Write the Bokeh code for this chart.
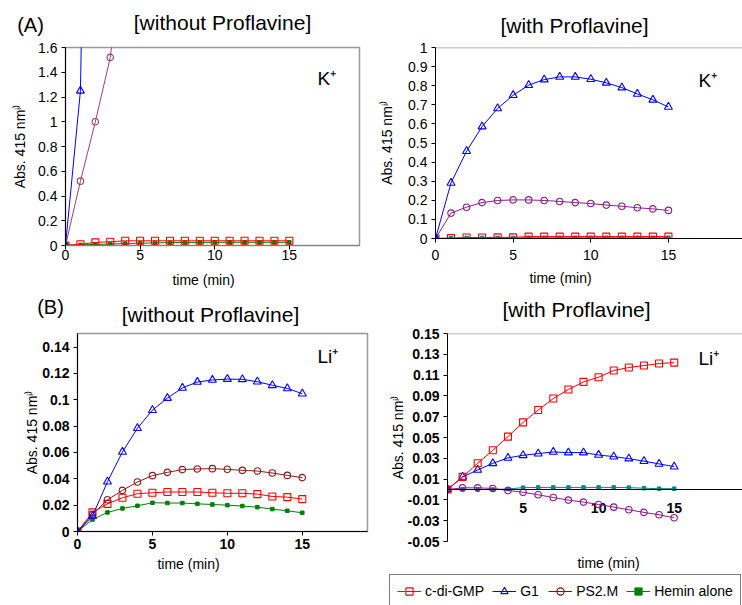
from bokeh.plotting import figure
from bokeh.layouts import column, row
from bokeh.models import (Range1d, FixedTicker, Label, Span, Legend, LegendItem,
                          CustomJSTickFormatter)
from bokeh.core.properties import value
from bokeh.embed import file_html
from bokeh.resources import INLINE

FONT = "Liberation Sans"

# ---------------- data ----------------
time_min = list(range(16))

# (A) K+, without proflavine
a1_cdigmp = [0.0, 0.01, 0.025, 0.03, 0.038, 0.038, 0.038, 0.038, 0.038, 0.038,
             0.038, 0.038, 0.038, 0.038, 0.038, 0.038]
a1_g1_time = [0, 1, 2]
a1_g1 = [0.0, 1.25, 8.0]
a1_ps2m_time = [0, 1, 2, 3, 4]
a1_ps2m = [0.0, 0.52, 1.0, 1.52, 2.5]
a1_hemin = [0.003, 0.005, 0.008, 0.012, 0.016, 0.019, 0.021, 0.023, 0.024, 0.025,
            0.026, 0.026, 0.026, 0.026, 0.026, 0.026]

# (A) K+, with proflavine
a2_cdigmp = [0.0, 0.002, 0.005, 0.005, 0.006, 0.006, 0.01, 0.01, 0.01, 0.01,
             0.01, 0.01, 0.01, 0.01, 0.01, 0.01]
a2_g1 = [0.0, 0.291, 0.457, 0.586, 0.681, 0.750, 0.803, 0.832, 0.846, 0.846,
         0.834, 0.815, 0.790, 0.757, 0.726, 0.689]
a2_ps2m = [0.0, 0.133, 0.164, 0.188, 0.199, 0.202, 0.202, 0.199, 0.194, 0.188,
           0.183, 0.175, 0.169, 0.161, 0.155, 0.147]
a2_hemin = [0.0, 0.002, 0.003, 0.003, 0.003, 0.003, 0.004, 0.004, 0.004, 0.004,
            0.004, 0.004, 0.004, 0.004, 0.004, 0.004]

# (B) Li+, without proflavine
b1_cdigmp = [0.0, 0.0145, 0.021, 0.0256, 0.0287, 0.0294, 0.030, 0.030, 0.030, 0.0294,
             0.029, 0.029, 0.0284, 0.0266, 0.0261, 0.0246]
b1_g1 = [0.0, 0.0117, 0.0378, 0.0604, 0.0784, 0.0921, 0.1013, 0.109, 0.1135, 0.115,
         0.1157, 0.1155, 0.1137, 0.111, 0.1086, 0.1046]
b1_ps2m = [0.0, 0.013, 0.0241, 0.0312, 0.0376, 0.0424, 0.0449, 0.047, 0.0475, 0.0477,
           0.0472, 0.0464, 0.0459, 0.0444, 0.0426, 0.0409]
b1_hemin = [0.0, 0.0091, 0.0145, 0.0175, 0.0195, 0.0218, 0.0216, 0.0216, 0.021, 0.0205,
            0.020, 0.0193, 0.0185, 0.017, 0.0157, 0.0142]

# (B) Li+, with proflavine
b2_cdigmp = [0.0, 0.0121, 0.0252, 0.0377, 0.0508, 0.0645, 0.0764, 0.0875, 0.0962, 0.1035,
             0.108, 0.1144, 0.1173, 0.1192, 0.1211, 0.122]
b2_g1 = [0.0, 0.0121, 0.0188, 0.0252, 0.0304, 0.0329, 0.0345, 0.0361, 0.0355, 0.0355,
         0.0332, 0.0316, 0.0297, 0.0272, 0.0246, 0.022]
b2_ps2m = [0.0, 0.0016, 0.0016, 0.001, -0.001, -0.0026, -0.0051, -0.0077, -0.0102, -0.0121,
           -0.0144, -0.0169, -0.0195, -0.022, -0.0243, -0.0272]
b2_hemin = [0.0, 0.0, 0.0, 0.0, 0.0005, 0.0018, 0.002, 0.002, 0.002, 0.002,
            0.002, 0.002, 0.0018, 0.0012, 0.0008, 0.0008]

# ticks
x_ticks = [0, 5, 10, 15]
b2_x_ticks = [5, 10, 15]
b2_x_tick_labels = ["5", "10", "15"]
a1_y_ticks = [0, 0.2, 0.4, 0.6, 0.8, 1.0, 1.2, 1.4, 1.6]
a1_y_labels = ["0", "0.2", "0.4", "0.6", "0.8", "1", "1.2", "1.4", "1.6"]
a2_y_ticks = [0, 0.1, 0.2, 0.3, 0.4, 0.5, 0.6, 0.7, 0.8, 0.9, 1.0]
a2_y_labels = ["0", "0.1", "0.2", "0.3", "0.4", "0.5", "0.6", "0.7", "0.8", "0.9", "1"]
b1_y_ticks = [0, 0.02, 0.04, 0.06, 0.08, 0.1, 0.12, 0.14]
b1_y_labels = ["0", "0.02", "0.04", "0.06", "0.08", "0.1", "0.12", "0.14"]
b2_y_ticks = [-0.05, -0.03, -0.01, 0.01, 0.03, 0.05, 0.07, 0.09, 0.11, 0.13, 0.15]
b2_y_labels = ["-0.05", "-0.03", "-0.01", "0.01", "0.03", "0.05", "0.07", "0.09",
               "0.11", "0.13", "0.15"]

series_names = ["c-di-GMP", "G1", "PS2.M", "Hemin alone"]

RED = "#FF0000"
BLUE = "#0000FF"
MAROON = "#8B1A1A"
PLUM = "#A0406A"
PURPLE = "#8B1C8B"
GREEN = "#008000"
TEAL = "#008B8B"
YLABEL = "Abs. 415 nm\u2071\u207e"


def lookup_formatter(vals, labels):
    return CustomJSTickFormatter(args=dict(tv=vals, tl=labels), code="""
        for (let i = 0; i < tv.length; i++) {
            if (Math.abs(tv[i] - tick) < 1e-9) { return tl[i]; }
        }
        return "";
    """)


def make_panel(width, height, bl, br, bt, bb, xmax, yrange, yticks, ylabels,
               bold, ylab_standoff, xlab_standoff, outline=True):
    p = figure(width=width, height=height, x_range=Range1d(0, xmax),
               y_range=Range1d(*yrange), output_backend="svg", toolbar_location=None,
               min_border_left=bl, min_border_right=br, min_border_top=bt,
               min_border_bottom=bb, background_fill_color="white",
               border_fill_color="white")
    p.xgrid.visible = False
    p.ygrid.visible = False
    if outline:
        p.outline_line_color = "#999999"
        p.outline_line_width = 1.5
    else:
        p.outline_line_color = None
        p.add_layout(Span(location=yrange[1], dimension="width",
                          line_color="#999999", line_width=1.5))
    weight = "bold" if bold else "normal"
    for ax in (p.xaxis[0], p.yaxis[0]):
        ax.axis_line_color = "black"
        ax.major_tick_line_color = "black"
        ax.major_tick_in = 0
        ax.major_tick_out = 4
        ax.minor_tick_line_color = None
        ax.major_label_text_font = FONT
        ax.major_label_text_font_size = "14px"
        ax.major_label_text_font_style = weight
        ax.major_label_text_color = "black"
    p.yaxis.ticker = FixedTicker(ticks=yticks)
    p.yaxis.formatter = lookup_formatter(yticks, ylabels)
    p.yaxis.major_label_standoff = 4
    p.yaxis.axis_label = YLABEL
    p.yaxis.axis_label_text_font = FONT
    p.yaxis.axis_label_text_font_size = "14px"
    p.yaxis.axis_label_text_font_style = "normal"
    p.yaxis.axis_label_standoff = ylab_standoff
    p.yaxis.axis_label_text_color = "black"
    p.xaxis.ticker = FixedTicker(ticks=x_ticks)
    p.xaxis.major_label_standoff = xlab_standoff
    return p


def strip(width, height, x_range=(0, 1), y_range=(0, 1)):
    s = figure(width=width, height=height, x_range=Range1d(*x_range),
               y_range=Range1d(*y_range),
               output_backend="svg", toolbar_location=None, x_axis_location=None,
               y_axis_location=None, min_border=0, min_border_left=0,
               min_border_right=0, min_border_top=0, min_border_bottom=0,
               background_fill_color="white", border_fill_color="white")
    s.xgrid.visible = False
    s.ygrid.visible = False
    s.outline_line_color = None
    return s


def add_series(p, x, y, color, kind):
    rl = p.line(x, y, line_color=color, line_width=1)
    if kind == "square":
        rs = p.scatter(x, y, marker="square", size=7, line_color=color, fill_color=None,
                       line_width=1.1)
    elif kind == "triangle":
        rs = p.scatter(x, y, marker="triangle", size=8, line_color=color,
                       fill_color=None, line_width=1.1)
    elif kind == "circle":
        rs = p.scatter(x, y, marker="circle", size=6.5, line_color=color,
                       fill_color=None, line_width=1.1)
    else:
        rs = p.scatter(x, y, marker="square", size=3.5, line_color=color,
                       fill_color=color, line_width=1)
    return rl, rs


def text_label(p, x, y, text, size, align="center", style="normal"):
    # x: px from frame left, y: px from frame bottom
    p.add_layout(Label(x=x, y=y, x_units="screen", y_units="screen", text=text,
                       text_font=FONT, text_font_size=size, text_align=align,
                       text_baseline="middle", text_color="black",
                       text_font_style=style))


# ---------------- header strip (A) ----------------
H_A = 40
hA = strip(742, H_A)
text_label(hA, 30, H_A - 24, "(A)", "20px")
text_label(hA, 222, H_A - 22, "[without Proflavine]", "21px")
text_label(hA, 574, H_A - 25, "[with Proflavine]", "21px")

# ---------------- panel A1 ----------------
pA1 = make_panel(370, 226, 65, 11, 7, 21, 19.7, (0, 1.6), a1_y_ticks, a1_y_labels,
                 False, 7, 0)
pA1.xaxis.axis_line_color = "#808080"
add_series(pA1, time_min, a1_hemin, GREEN, "dot")
add_series(pA1, time_min, a1_cdigmp, RED, "square")
add_series(pA1, a1_ps2m_time, a1_ps2m, PLUM, "circle")
add_series(pA1, a1_g1_time, a1_g1, BLUE, "triangle")
text_label(pA1, 252, 167, "K\u207a", "19px", align="left")

# ---------------- panel A2 ----------------
pA2 = make_panel(372, 226, 65, 0, 7, 28, 19.77, (0, 1.0), a2_y_ticks, a2_y_labels,
                 False, 10, 7, outline=False)
add_series(pA2, time_min, a2_hemin, TEAL, "dot")
add_series(pA2, time_min, a2_cdigmp, RED, "square")
add_series(pA2, time_min, a2_ps2m, PURPLE, "circle")
add_series(pA2, time_min, a2_g1, BLUE, "triangle")
text_label(pA2, 263, 158, "K\u207a", "19px", align="left")

# ---------------- middle strips ----------------
H_ML = 64
mL = strip(370, H_ML)
text_label(mL, 203, H_ML - 13, "time (min)", "14px")
text_label(mL, 50, H_ML - 40, "(B)", "20px")
text_label(mL, 210, H_ML - 48, "[without Proflavine]", "21px")

H_MR = 58
mR = strip(372, H_MR)
text_label(mR, 190, H_MR - 11, "time (min)", "14px")
text_label(mR, 206, H_MR - 43, "[with Proflavine]", "21px")

# ---------------- panel B1 ----------------
pB1 = make_panel(370, 225, 77, 3, 3, 24, 19.35, (0, 0.1503), b1_y_ticks, b1_y_labels,
                 True, -1, 3)
add_series(pB1, time_min, b1_hemin, GREEN, "dot")
add_series(pB1, time_min, b1_cdigmp, RED, "square")
add_series(pB1, time_min, b1_ps2m, MAROON, "circle")
add_series(pB1, time_min, b1_g1, BLUE, "triangle")
text_label(pB1, 240, 175, "Li\u207a", "19px", align="left")

# ---------------- panel B2 ----------------
pB2 = make_panel(372, 231, 77, 0, 9, 14, 19.52, (-0.05, 0.15), b2_y_ticks, b2_y_labels,
                 True, -1, 6, outline=False)
pB2.xaxis.visible = False
pB2.add_layout(Span(location=0, dimension="width", line_color="black", line_width=1))
pB2.text(x=b2_x_ticks, y=[0] * len(b2_x_ticks), text=b2_x_tick_labels,
         text_font=value(FONT), text_font_size="14px", text_font_style="bold",
         text_align="center", text_baseline="middle", y_offset=18, text_color="black")
add_series(pB2, time_min, b2_hemin, TEAL, "dot")
add_series(pB2, time_min, b2_ps2m, PURPLE, "circle")
add_series(pB2, time_min, b2_g1, BLUE, "triangle")
add_series(pB2, time_min, b2_cdigmp, RED, "square")
text_label(pB2, 251, 183, "Li\u207a", "19px", align="left")

# ---------------- footer strip with legend ----------------
# The footer's ranges lie far away from the data, so its legend renderers stay off-screen.
H_F = 50
hF = strip(742, H_F, x_range=(1000, 1001), y_range=(1000, 1001))
text_label(hF, 188, H_F - 8, "time (min)", "14px")
text_label(hF, 608, H_F - 7, "time (min)", "14px")
legend_series = [b1_cdigmp, b1_g1, b1_ps2m, b1_hemin]
legend_colors = [RED, BLUE, "#990000", GREEN]
legend_kinds = ["square", "triangle", "circle", "dot"]
items = []
for name, ys, col, kind in zip(series_names, legend_series, legend_colors, legend_kinds):
    rl, rs = add_series(hF, time_min, ys, col, kind)
    items.append(LegendItem(label=name, renderers=[rl, rs]))
legend = Legend(items=items, orientation="horizontal", location=(389, -3),
                label_text_font=FONT, label_text_font_size="14px",
                label_text_color="black", glyph_width=24, glyph_height=18,
                label_height=18, label_standoff=4, spacing=8, padding=7, margin=0,
                border_line_color="black", border_line_width=1,
                background_fill_color="white", background_fill_alpha=1)
hF.add_layout(legend)

layout = column(hA,
                row(column(pA1), column(pA2)),
                row(column(row(mL), row(pB1)), column(row(mR), row(pB2))),
                hF)
open("out.html", "w").write(file_html(layout, INLINE))
